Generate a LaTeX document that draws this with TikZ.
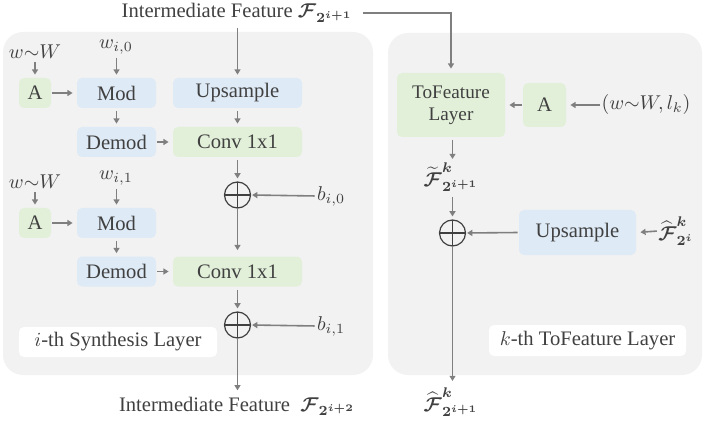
\documentclass[tikz,border=0pt]{standalone}
\usepackage{amsmath}
\usepackage{bm}
\usepackage{fontspec}
\setmainfont{Liberation Serif}
\usetikzlibrary{arrows.meta}
\definecolor{panelbg}{HTML}{F2F2F2}
\definecolor{bluebox}{HTML}{DEEAF6}
\definecolor{greenbox}{HTML}{E2F0D9}
\definecolor{txtgray}{HTML}{404040}
\definecolor{arrgray}{HTML}{7F7F7F}
\newcommand{\Fcal}{\bm{\mathcal{F}}}
\begin{document}
\begin{tikzpicture}[x=0.5pt,y=-0.5pt,
  every node/.style={text=txtgray,font=\fontsize{10.3}{12}\selectfont},
  panel/.style={fill=panelbg,draw=none,rounded corners=10pt},
  bbox/.style={fill=bluebox,draw=none,rounded corners=2.5pt,inner sep=0pt,minimum height=15pt},
  gbox/.style={fill=greenbox,draw=none,rounded corners=2.5pt,inner sep=0pt,minimum height=15pt},
  lbl/.style={inner sep=0pt},
  labbox/.style={fill=white,draw=none,rounded corners=2.5pt,inner sep=0pt,minimum height=15pt},
  opl/.style={circle,draw=txtgray,line width=0.6pt,minimum size=13pt,inner sep=0pt,
    path picture={\draw[txtgray,line width=0.6pt] (path picture bounding box.north) -- (path picture bounding box.south) (path picture bounding box.west) -- (path picture bounding box.east);}},
  arr/.style={draw=arrgray,line width=0.8pt,-{Triangle[length=2.6pt,width=3pt]},shorten <=1.5pt,shorten >=1.5pt},
  harr/.style={arr,shorten <=0.5pt,shorten >=2pt}
]
\useasboundingbox (0,0) rectangle (706,422);
% panels
\fill[panel] (3,32) rectangle (373,375);
\fill[panel] (388,33) rectangle (702,375);

% left panel nodes
\node[lbl,anchor=base] (topF) at (237,18) {Intermediate Feature $\Fcal_{\bm{2^{i+1}}}$};
\node[lbl] (ww1) at (35,52) {$w{\sim}W$};
\node[lbl] (wi0) at (116,47) {$w_{i,0}$};
\node[gbox,minimum width=16pt] (A1) at (35,93) {A};
\node[bbox,minimum width=39.5pt] (Mod1) at (116.5,93) {Mod};
\node[bbox,minimum width=64.5pt] (Up1) at (237.5,93) {Upsample};
\node[bbox,minimum width=39.5pt] (Demod1) at (116.5,142) {Demod};
\node[gbox,minimum width=64.5pt] (Conv1) at (237.5,142) {Conv 1x1};
\node[opl] (op1) at (237.5,195) {};
\node[lbl] (b0) at (331,196) {$b_{i,0}$};
\node[lbl] (ww2) at (35,182) {$w{\sim}W$};
\node[lbl] (wi1) at (116,178) {$w_{i,1}$};
\node[gbox,minimum width=16pt] (A2) at (35,223) {A};
\node[bbox,minimum width=39.5pt] (Mod2) at (116.5,223) {Mod};
\node[bbox,minimum width=39.5pt] (Demod2) at (116.5,271.5) {Demod};
\node[gbox,minimum width=64.5pt] (Conv2) at (237.5,271.5) {Conv 1x1};
\node[opl] (op2) at (237.5,325) {};
\node[lbl] (b1) at (331,326) {$b_{i,1}$};
\node[labbox,minimum width=99pt] (lab1) at (118,342) {$i$-th Synthesis Layer};
\node[lbl,anchor=base] (botF) at (237,411) {Intermediate Feature \ $\Fcal_{\bm{2^{i+2}}}$};

% right panel nodes
\node[gbox,minimum width=54pt,minimum height=32pt,align=center,font=\fontsize{9.6}{11}\selectfont] (ToF) at (451,105) {ToFeature\\Layer};
\node[gbox,minimum width=21.5pt,minimum height=22pt] (A3) at (544.5,105) {A};
\node[lbl] (wl) at (646,105) {$(w{\sim}W,l_k)$};
\node[lbl] (Ft) at (451,177) {$\widetilde{\Fcal}^{\bm k}_{\bm{2^{i+1}}}$};
\node[opl] (op3) at (452.5,233) {};
\node[bbox,minimum width=58.5pt,minimum height=22.5pt] (Up3) at (577.5,232.5) {Upsample};
\node[lbl] (Fh) at (676,231) {$\widehat{\Fcal}^{\bm k}_{\bm{2^{i}}}$};
\node[lbl] (Fh2) at (451,402) {$\widehat{\Fcal}^{\bm k}_{\bm{2^{i+1}}}$};
\node[labbox,minimum width=98.5pt,minimum height=15.5pt] (lab2) at (587.5,340.5) {$k$-th ToFeature Layer};

% left connectors
\draw[arr,shorten <=2.5pt] (topF.south -| Up1.north) -- (Up1.north);
\draw[arr] (ww1.south) -- (A1.north);
\draw[arr] (wi0.south -| Mod1.north) -- (Mod1.north);
\draw[harr] (A1.east) -- (Mod1.west);
\draw[arr] (Mod1.south) -- (Demod1.north);
\draw[arr] (Up1.south) -- (Conv1.north);
\draw[harr] (Demod1.east) -- (Conv1.west);
\draw[arr] (Conv1.south -| op1.north) -- (op1.north);
\draw[arr,shorten <=1pt,shorten >=0.5pt] (b0.west) -- (op1.east);
\draw[arr] (ww2.south) -- (A2.north);
\draw[arr] (wi1.south -| Mod2.north) -- (Mod2.north);
\draw[harr] (A2.east) -- (Mod2.west);
\draw[arr] (Mod2.south) -- (Demod2.north);
\draw[arr,shorten <=0pt,shorten >=3pt] (op1.south) -- (op1.south |- Conv2.north);
\draw[harr] (Demod2.east) -- (Conv2.west);
\draw[arr] (Conv2.south -| op2.north) -- (op2.north);
\draw[arr,shorten <=1pt,shorten >=0.5pt] (b1.west) -- (op2.east);
\draw[arr,shorten <=0pt,shorten >=3pt] (op2.south) -- (op2.south |- botF.north);

% right connectors
\draw[arr,shorten <=5pt,shorten >=2pt] (topF.east) -| (ToF.north);
\draw[harr] (A3.west) -- (ToF.east);
\draw[harr] (wl.west) -- (A3.east);
\draw[arr] (ToF.south -| op3.north) -- (op3.south |- Ft.north);
\draw[arr,shorten <=2.5pt] (op3.north |- Ft.south) -- (op3.north);
\draw[harr,shorten >=0.5pt] (Up3.west) -- (op3.east);
\draw[harr] (Fh.west) -- (Up3.east);
\draw[arr,shorten <=0pt,shorten >=3pt] (op3.south) -- (op3.south |- Fh2.north);
\end{tikzpicture}
\end{document}
